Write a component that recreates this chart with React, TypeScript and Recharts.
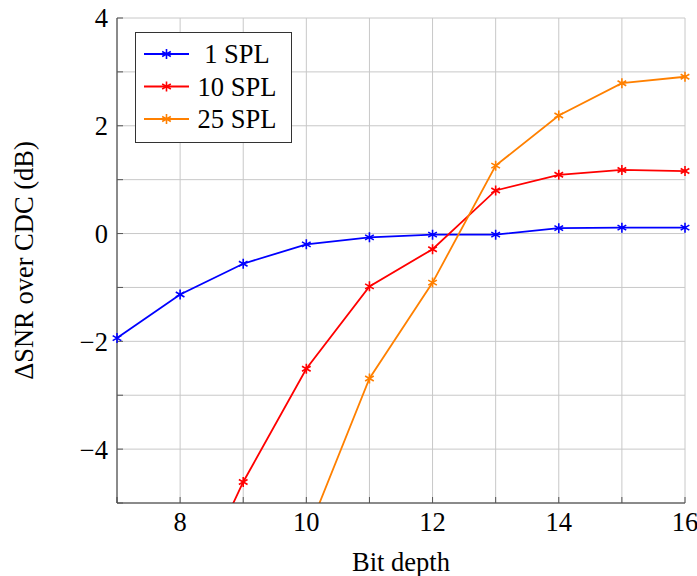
import React from 'react';
import { LineChart, Line, XAxis, YAxis, CartesianGrid } from 'recharts';

const bits = [7, 8, 9, 10, 11, 12, 13, 14, 15, 16];
const spl1 = [-1.94, -1.13, -0.56, -0.2, -0.07, -0.02, -0.02, 0.1, 0.11, 0.11];
const spl10 = [null, -7.1, -4.61, -2.51, -0.98, -0.29, 0.8, 1.09, 1.18, 1.16];
const spl25 = [null, null, null, -5.61, -2.69, -0.91, 1.26, 2.19, 2.79, 2.91];
const xTicks = [7, 8, 9, 10, 11, 12, 13, 14, 15, 16];
const yTicks = [-5, -4, -3, -2, -1, 0, 1, 2, 3, 4];
const seriesNames = ['1 SPL', '10 SPL', '25 SPL'];
const seriesColors = ['#0000ff', '#ff0000', '#ff8000'];

const Y_MIN = -5;
const Y_MAX = 4;
const inRange = (v: number | null) => (v == null || v < Y_MIN || v > Y_MAX ? null : v);

const rows = bits.map((b, i) => ({
  bits: b,
  s1: spl1[i],
  s10: spl10[i],
  s25: spl25[i],
  d1: inRange(spl1[i]),
  d10: inRange(spl10[i]),
  d25: inRange(spl25[i]),
}));

const FONT = 'Liberation Serif';
const FS = 26.5;

const fmt = (v: number) => (v % 2 === 0 ? (v < 0 ? '\u2212' + Math.abs(v) : String(v)) : '');

function StarMark({ cx, cy, color, r = 5 }: any) {
  if (cx == null || cy == null || isNaN(cx) || isNaN(cy)) return <g />;
  const segs = [90, 30, 150].map((a) => {
    const rad = (a * Math.PI) / 180;
    const dx = r * Math.cos(rad);
    const dy = r * Math.sin(rad);
    return `M${cx - dx},${cy - dy}L${cx + dx},${cy + dy}`;
  });
  return <path d={segs.join('')} stroke={color} strokeWidth={1.6} fill="none" />;
}

const makeDot = (color: string) => (p: any) => {
  if (p.value == null || p.payload == null) return <g key={p.key} />;
  return <StarMark key={p.key} cx={p.cx} cy={p.cy} color={color} />;
};

const emptyTick = () => <g />;

export default function App() {
  const lineKeys = ['s1', 's10', 's25'];
  const dotKeys = ['d1', 'd10', 'd25'];
  return (
    <div style={{ position: 'absolute', left: 0, top: 0, width: 697, height: 576, background: '#fff', fontFamily: FONT }}>
      <LineChart width={697} height={576} data={rows} margin={{ top: 18, right: 12, bottom: 0, left: 0 }} style={{ fontFamily: FONT }}>
        <CartesianGrid stroke="#c8c8c8" strokeWidth={1} />
        <XAxis
          dataKey="bits"
          type="number"
          domain={[7, 16]}
          ticks={xTicks}
          tickFormatter={fmt}
          height={73}
          tickSize={-6}
          tickMargin={15}
          stroke="#333"
          tickLine={{ stroke: '#555' }}
          tick={{ fontSize: FS, fill: '#000', fontFamily: FONT }}
          interval={0}
          label={{
            content: (props: any) => {
              const vb = props.viewBox || {};
              return (
                <text x={vb.x + vb.width / 2} y={vb.y + vb.height - 5} textAnchor="middle" fontSize={FS} fontFamily={FONT} fill="#000">
                  Bit depth
                </text>
              );
            },
          }}
        />
        <XAxis
          xAxisId="top"
          orientation="top"
          dataKey="bits"
          type="number"
          domain={[7, 16]}
          ticks={xTicks}
          height={0}
          tickSize={-6}
          stroke="#333"
          tickLine={{ stroke: '#555' }}
          tick={emptyTick}
          interval={0}
        />
        <YAxis
          type="number"
          domain={[Y_MIN, Y_MAX]}
          allowDataOverflow
          ticks={yTicks}
          tickFormatter={fmt}
          width={117}
          tickSize={-6}
          tickMargin={15}
          stroke="#333"
          tickLine={{ stroke: '#555' }}
          tick={{ fontSize: FS, fill: '#000', fontFamily: FONT }}
          interval={0}
          label={{
            content: (props: any) => {
              const vb = props.viewBox || {};
              const x = vb.x + 33;
              const y = vb.y + vb.height / 2;
              return (
                <text x={x} y={y} transform={`rotate(-90, ${x}, ${y})`} textAnchor="middle" fontSize={FS} fontFamily={FONT} fill="#000">
                  ΔSNR over CDC (dB)
                </text>
              );
            },
          }}
        />
        <YAxis
          yAxisId="right"
          orientation="right"
          type="number"
          domain={[Y_MIN, Y_MAX]}
          ticks={yTicks}
          width={0}
          tickSize={-6}
          stroke="#333"
          tickLine={{ stroke: '#555' }}
          tick={emptyTick}
          interval={0}
        />
        {lineKeys.map((k, i) => (
          <Line
            key={k}
            dataKey={k}
            type="linear"
            stroke={seriesColors[i]}
            strokeWidth={1.8}
            dot={false}
            activeDot={false}
            isAnimationActive={false}
            legendType="none"
          />
        ))}
        {dotKeys.map((k, i) => (
          <Line
            key={k}
            yAxisId="right"
            dataKey={k}
            type="linear"
            stroke="none"
            dot={makeDot(seriesColors[i])}
            activeDot={false}
            isAnimationActive={false}
            legendType="none"
          />
        ))}
      </LineChart>
      <svg width={697} height={576} style={{ position: 'absolute', left: 0, top: 0, pointerEvents: 'none' }}>
        <rect x={135.5} y={32.5} width={156} height={110} fill="#fff" stroke="#333" strokeWidth={1} />
        {seriesNames.map((n, i) => {
          const y = 54 + i * 32.5;
          return (
            <g key={n}>
              <line x1={144} x2={189} y1={y} y2={y} stroke={seriesColors[i]} strokeWidth={1.8} />
              <StarMark cx={166.5} cy={y} color={seriesColors[i]} />
              <text x={237} y={y + 9} textAnchor="middle" fontSize={FS} fontFamily={FONT} fill="#000">
                {n}
              </text>
            </g>
          );
        })}
      </svg>
    </div>
  );
}
